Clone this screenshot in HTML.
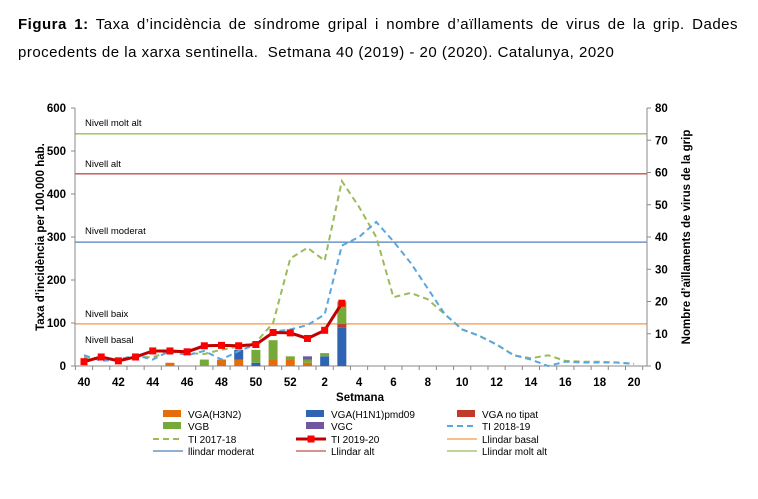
<!DOCTYPE html>
<html><head><meta charset="utf-8"><style>
body{margin:0;background:#fff;width:758px;height:499px;overflow:hidden;font-family:"Liberation Sans",Arial,sans-serif}
.t{position:absolute;left:18px;font-size:15px;letter-spacing:0.5px;color:#000;white-space:nowrap}
.j{width:720px;text-align:justify;text-align-last:justify;white-space:normal}
</style></head><body>
<div class="t j" style="top:16px"><b>Figura 1:</b> Taxa d’incidència de síndrome gripal i nombre d’aïllaments de virus de la grip. Dades</div>
<div class="t" style="top:44px">procedents de la xarxa sentinella.&nbsp; Setmana 40 (2019) - 20 (2020). Catalunya, 2020</div>
<svg id="c" width="758" height="499" style="position:absolute;left:0;top:0" font-family="Liberation Sans, Arial, sans-serif"></svg>
<script>
const s=document.getElementById('c');let h='';
const X=i=>84+i*17.19, Y=v=>366-v*0.43, R=n=>366-n*3.225;
[[540,'#9bbb59','Nivell molt alt',126],[447,'#c0504d','Nivell alt',167],[288,'#4f81bd','Nivell moderat',234],[98,'#f79646','Nivell baix',317]].forEach(([v,c,t,ty])=>{
h+=`<line x1="75" x2="647" y1="${Y(v)}" y2="${Y(v)}" stroke="${c}" stroke-width="1.3"/><text x="85" y="${ty}" font-size="9.5">${t}</text>`;});
h+=`<text x="85" y="343" font-size="9.5">Nivell basal</text>`;
h+=`<line x1="75" y1="108" x2="75" y2="366" stroke="#888"/><line x1="647" y1="108" x2="647" y2="366" stroke="#888"/><line x1="75" y1="366" x2="647" y2="366" stroke="#888"/>`;
for(let v=0;v<=600;v+=100){h+=`<line x1="71" x2="75" y1="${Y(v)}" y2="${Y(v)}" stroke="#888"/><text x="66" y="${Y(v)+4}" font-size="11.5" font-weight="bold" text-anchor="end">${v}</text>`;}
for(let n=0;n<=80;n+=10){h+=`<line x1="647" x2="651" y1="${R(n)}" y2="${R(n)}" stroke="#888"/><text x="655" y="${R(n)+4}" font-size="11.5" font-weight="bold">${n}</text>`;}
for(let i=0;i<=33;i++){const x=75.4+i*17.19;h+=`<line x1="${x}" x2="${x}" y1="366" y2="370" stroke="#888"/>`;}
const wk=[40,41,42,43,44,45,46,47,48,49,50,51,52,1,2,3,4,5,6,7,8,9,10,11,12,13,14,15,16,17,18,19,20];
wk.forEach((w,i)=>{if(i%2==0)h+=`<text x="${X(i)}" y="386" font-size="11.5" font-weight="bold" text-anchor="middle">${w}</text>`;});
h+=`<text x="360" y="401" font-size="11.5" font-weight="bold" text-anchor="middle">Setmana</text>`;
h+=`<text transform="translate(44,237) rotate(-90)" font-size="11.5" font-weight="bold" text-anchor="middle">Taxa d’incidència per 100.000 hab.</text>`;
h+=`<text transform="translate(690,237) rotate(-90)" font-size="11.5" font-weight="bold" text-anchor="middle">Nombre d’aïllaments de virus de la grip</text>`;
const O='#e46c0a',B='#2e64b4',G='#77a83a',P='#7058a0',Rd='#c0392b';
const bars=[[5,[[1,O]]],[7,[[2,G]]],[8,[[2,O]]],[9,[[2,O],[3,B]]],[10,[[1,B],[4,G]]],[11,[[2,O],[6,G]]],[12,[[2,O],[1,G]]],[13,[[1,O],[1,G],[1,P]]],[14,[[3,B],[1,G]]],[15,[[12,B],[1,Rd],[7,G]]]];
bars.forEach(([i,st])=>{let b=0;st.forEach(([n,c])=>{h+=`<rect x="${X(i)-4.5}" y="${R(b+n)}" width="9" height="${n*3.225}" fill="${c}"/>`;b+=n;});});
const pl=(d,c,dash,w)=>`<polyline fill="none" stroke="${c}" stroke-width="${w}" ${dash?'stroke-dasharray="6,4"':''} points="${d.map((v,i)=>X(i)+','+Y(v)).join(' ')}"/>`;
const g=[20,18,15,22,20,35,30,28,38,45,55,100,250,275,245,430,370,300,160,170,155,120,85,70,50,25,18,25,12,10,10,8,5];
const bl=[25,12,15,25,15,35,25,35,15,35,50,80,85,95,120,280,300,335,290,240,180,120,85,70,50,25,15,0,10,8,8,8,5];
h+=pl(g,'#9bbb59',1,2)+pl(bl,'#5aa6e0',1,2);
const r=[10,21,12,21,35,35,33,47,48,47,50,78,77,64,83,146];
h+=pl(r,'#c00000',0,3);
r.forEach((v,i)=>h+=`<rect x="${X(i)-3.5}" y="${Y(v)-3.5}" width="7" height="7" fill="#ff0000"/>`);
const L=[[153,414,'rect',O,'VGA(H3N2)'],[296,414,'rect',B,'VGA(H1N1)pmd09'],[447,414,'rect',Rd,'VGA no tipat'],
[153,426,'rect',G,'VGB'],[296,426,'rect',P,'VGC'],[447,426,'dash','#5aa6e0','TI 2018-19'],
[153,439,'dash','#9bbb59','TI 2017-18'],[296,439,'red','#c00000','TI 2019-20'],[447,439,'line','#f79646','Llindar basal'],
[153,451,'line','#4f81bd','llindar moderat'],[296,451,'line','#c0504d','Llindar alt'],[447,451,'line','#9bbb59','Llindar molt alt']];
L.forEach(([x,y,t,c,tx])=>{
if(t=='rect')h+=`<rect x="${x+10}" y="${y-4}" width="18" height="7" fill="${c}"/>`;
else if(t=='dash')h+=`<line x1="${x}" x2="${x+30}" y1="${y}" y2="${y}" stroke="${c}" stroke-width="2" stroke-dasharray="6,4"/>`;
else if(t=='red')h+=`<line x1="${x}" x2="${x+30}" y1="${y}" y2="${y}" stroke="${c}" stroke-width="3"/><rect x="${x+11.5}" y="${y-3.5}" width="7" height="7" fill="#f00"/>`;
else h+=`<line x1="${x}" x2="${x+30}" y1="${y}" y2="${y}" stroke="${c}" stroke-width="1.3"/>`;
h+=`<text x="${x+35}" y="${y+4}" font-size="10">${tx}</text>`;});
s.innerHTML=h;
</script>
</body></html>
